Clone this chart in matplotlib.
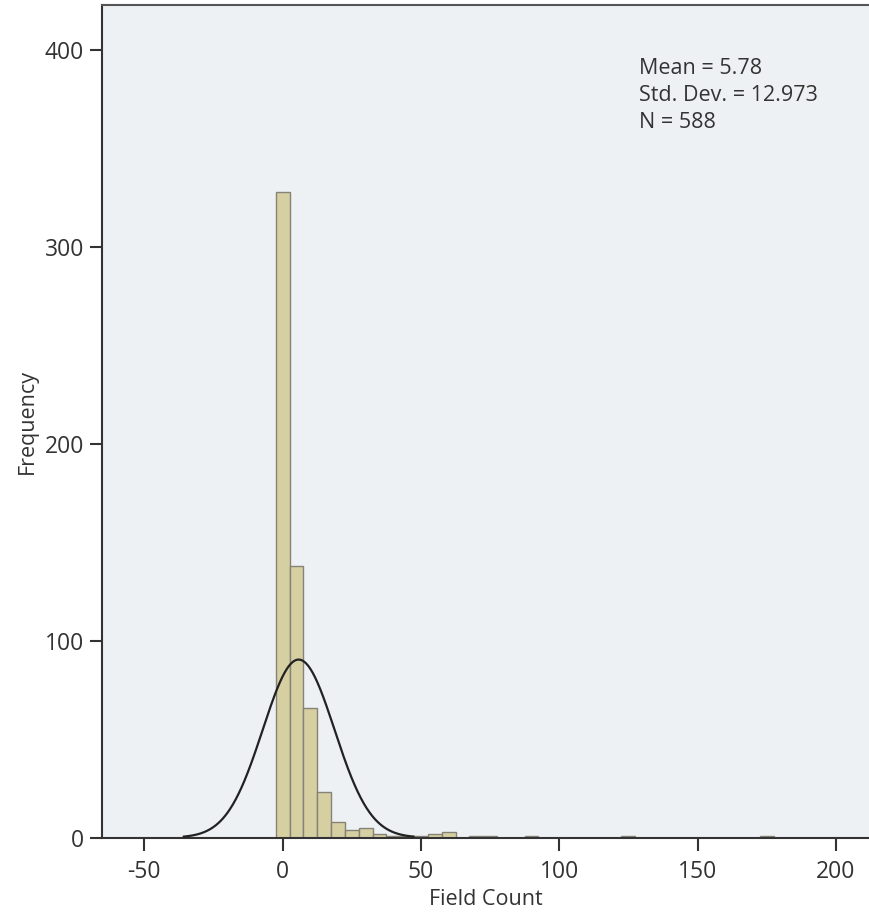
import numpy as np
import matplotlib.pyplot as plt

plt.rcParams['font.family'] = ['Open Sans', 'DejaVu Sans']

# histogram of Field Count, bins 5 wide starting at -2.5
bin_start = -2.5
bin_width = 5
counts = [328, 138, 66, 23, 8, 4, 5, 2, 1, 1, 1, 2, 3, 0, 1, 1, 0, 0, 1,
          0, 0, 0, 0, 0, 0, 1, 0, 0, 0, 0, 0, 0, 0, 0, 0, 1]

mean = 5.78
std = 12.973
n = 588

xticks = [-50, 0, 50, 100, 150, 200]
yticks = [0, 100, 200, 300, 400]

edges = bin_start + bin_width * np.arange(len(counts) + 1)

fig = plt.figure(figsize=(8.69, 9.13), dpi=100)
ax = fig.add_axes([0.1174, 0.0825, 0.8826, 0.912])
ax.set_facecolor('#edf1f3')

ax.bar(edges[:-1], counts, width=bin_width, align='edge',
       color='#d6cfa2', edgecolor='#858276', linewidth=1.0, zorder=2)

# fitted normal curve
xs = np.linspace(mean - 3.2 * std, mean + 3.2 * std, 400)
ys = n * bin_width * np.exp(-0.5 * ((xs - mean) / std) ** 2) / (std * np.sqrt(2 * np.pi))
ax.plot(xs, ys, color='#222222', lw=1.6, zorder=3)

ax.set_xlim(-65.3, 212)
ax.set_ylim(0, 422.7)
ax.set_xticks(xticks)
ax.set_yticks(yticks)
ax.set_xticklabels([str(t) for t in xticks])

for s in ['left', 'bottom', 'top']:
    ax.spines[s].set_color('#333333')
    ax.spines[s].set_linewidth(1.5)
ax.spines['right'].set_visible(False)
ax.spines['top'].set_color('#555555')

ax.tick_params(axis='both', direction='out', length=9, width=1.5, color='#333333',
               labelsize=16.5, labelcolor='#333333')
ax.tick_params(axis='x', pad=7)
ax.tick_params(axis='y', pad=4)

ax.set_xlabel('Field Count', fontsize=15.5, color='#333333', labelpad=4)
ax.set_ylabel('Frequency', fontsize=15.5, color='#333333', labelpad=5)

ax.text(0.700, 0.936, f'Mean = {mean}\nStd. Dev. = {std}\nN = {n}',
        transform=ax.transAxes, ha='left', va='top', fontsize=15.5,
        color='#333333', linespacing=1.35)

fig.savefig('out.png', dpi=100)
